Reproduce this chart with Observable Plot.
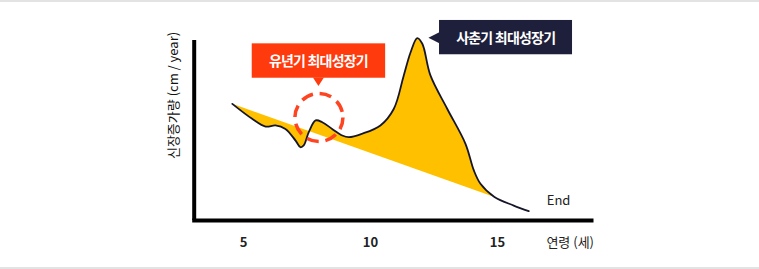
<!DOCTYPE html>
<html><head><meta charset="utf-8">
<script src="https://cdn.jsdelivr.net/npm/d3@7"></script>
<script src="https://cdn.jsdelivr.net/npm/@observablehq/plot@0.6"></script>
<style>
html,body{margin:0;padding:0;background:#fff;}
#wrap{position:relative;width:759px;height:269px;overflow:hidden;background:#fff;}
#wrap svg{position:absolute;top:0;left:0;}
.bline{position:absolute;left:0;width:759px;height:2px;background:#e3e3e3;z-index:2;}
</style></head><body>
<div id="wrap"><div class="bline" style="top:0"></div><div class="bline" style="top:267px"></div></div>
<script>
// Growth velocity curve (age in years, relative growth increment)
const ages   = [4.56, 5.34, 5.87, 6.26, 6.65, 7.05, 7.24, 7.37, 7.57, 7.84, 8.10, 8.49, 8.89, 9.15, 9.67, 10.39, 10.92, 11.31, 11.58, 11.84, 12.04, 12.36, 13.02, 13.74, 14.07, 14.33, 14.88, 15.64, 16.23];
const growth = [64.8, 56.5, 52.2, 52.8, 50.9, 44.4, 40.7, 41.7, 49.1, 55.6, 54.6, 50.9, 47.2, 46.3, 48.2, 52.8, 62.1, 80.6, 93.5, 101.3, 98.2, 80.6, 62.1, 42.6, 27.8, 20.4, 13.1, 8.3, 5.2];
const trendEndAge = 14.88;           // where the straight baseline meets the curve
const tickAges = [5, 10, 15];
const tickLabels = ["5", "10", "15"];
const yLabel = "신장증가량 (cm / year)";
const xLabel = "연령 (세)";
const endLabel = "End";
const childPeakLabel = "유년기 최대성장기";
const childPeakAge = 7.97;
const childPeakValue = 57.2;
const pubertyPeakLabel = "사춘기 최대성장기";

const data = ages.map((a, i) => ({age: a, v: growth[i]}));
const fillData = data.filter(d => d.age <= trendEndAge);
const peak = data.reduce((m, d) => d.v > m.v ? d : m, data[0]);
const FONT = "'Noto Sans CJK KR', 'Noto Sans', sans-serif";

const callouts = (index, scales) => {
  const g = d3.create("svg:g").attr("font-family", FONT);
  const cx = scales.x(childPeakAge), cy = scales.y(childPeakValue);
  g.append("rect").attr("x", cx - 66.7).attr("y", cy - 73.7).attr("width", 133.4).attr("height", 34.4).attr("fill", "#ff3a0c");
  g.append("path").attr("d", `M${cx - 5.5},${cy - 39.6}L${cx + 5.5},${cy - 39.6}L${cx},${cy - 31}Z`).attr("fill", "#ff3a0c");
  g.append("text").attr("x", cx).attr("y", cy - 56.5).attr("dy", "0.36em").attr("text-anchor", "middle")
    .attr("fill", "#fff").attr("font-weight", "bold").attr("font-size", 14).attr("letter-spacing", "-0.8px").text(childPeakLabel);
  const px = scales.x(peak.age), py = scales.y(peak.v);
  g.append("rect").attr("x", px + 22.3).attr("y", py - 17.7).attr("width", 133).attr("height", 34.3).attr("fill", "#1e1f3b");
  g.append("path").attr("d", `M${px + 11.7},${py}L${px + 22.6},${py - 5.5}L${px + 22.6},${py + 5.5}Z`).attr("fill", "#1e1f3b");
  g.append("text").attr("x", px + 89).attr("y", py).attr("dy", "0.36em").attr("text-anchor", "middle")
    .attr("fill", "#fff").attr("font-weight", "bold").attr("font-size", 14).attr("letter-spacing", "-0.8px").text(pubertyPeakLabel);
  return g.node();
};

const chart = Plot.plot({
  width: 759, height: 269,
  marginLeft: 192.2, marginRight: 165.5, marginTop: 40, marginBottom: 49,
  x: {domain: [3, 18.8], axis: null},
  y: {domain: [0, 100], axis: null},
  style: {fontFamily: FONT, background: "transparent", overflow: "visible"},
  marks: [
    Plot.line(fillData, {x: "age", y: "v", fill: "#ffc000", stroke: "none", curve: "catmull-rom"}),
    Plot.line(data, {x: "age", y: "v", stroke: "#16162a", strokeWidth: 1.8, curve: "catmull-rom"}),
    Plot.ruleX([3], {stroke: "#000", strokeWidth: 4, dx: 1.5}),
    Plot.ruleY([0], {stroke: "#000", strokeWidth: 4}),
    Plot.text(tickAges, {x: d => d, y: 0, text: (d, i) => tickLabels[i], dy: 22, fontSize: 13, fontWeight: "bold", fill: "#222"}),
    Plot.text([xLabel], {frameAnchor: "bottom-right", text: d => d, dy: 22, textAnchor: "end", lineAnchor: "middle", fontSize: 13, fill: "#222"}),
    Plot.text([yLabel], {frameAnchor: "top-left", text: d => d, rotate: -90, dx: -19, dy: 55, textAnchor: "middle", lineAnchor: "middle", fontSize: 13, fill: "#111", letterSpacing: "-0.6px"}),
    Plot.text([data[data.length - 1]], {x: "age", y: "v", text: () => endLabel, dx: 18, dy: -10, textAnchor: "start", fontSize: 13, fill: "#222"}),
    Plot.dot([{age: childPeakAge, v: childPeakValue}], {x: "age", y: "v", r: 24, fill: "none", stroke: "#ff4422", strokeWidth: 3.5, strokeDasharray: "12,6.85"}),
    callouts
  ]
});
document.getElementById("wrap").appendChild(chart);
</script>
</body></html>
